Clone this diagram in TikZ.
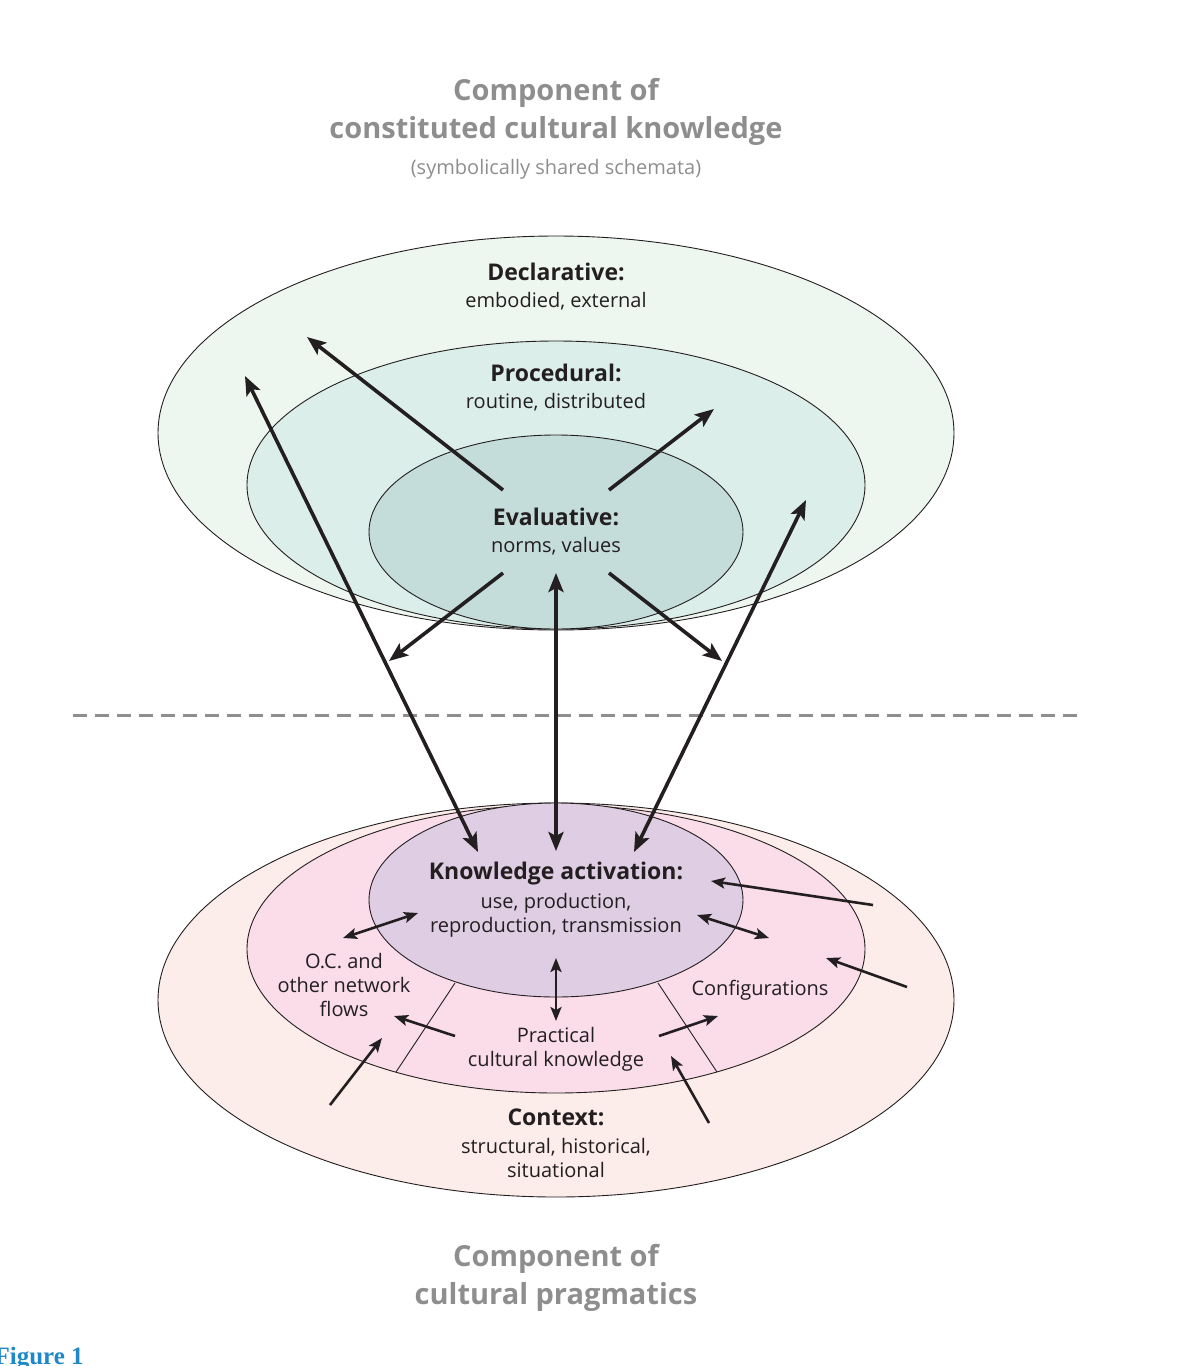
\documentclass[tikz,border=0pt]{standalone}
\usepackage{fontspec}
\setmainfont{Open Sans}
\newfontfamily\capfont{Liberation Serif}
\usepackage{tikz}
\usetikzlibrary{arrows.meta}
\definecolor{declfill}{HTML}{EEF6F0}
\definecolor{procfill}{HTML}{DCEEEA}
\definecolor{evalfill}{HTML}{C4DCDA}
\definecolor{ctxfill}{HTML}{FCECEA}
\definecolor{pracfill}{HTML}{FADDE9}
\definecolor{actfill}{HTML}{DFCDE3}
\definecolor{titlegray}{HTML}{8E8E8E}
\definecolor{inkblack}{HTML}{231F20}
\definecolor{capblue}{HTML}{1E88C8}

\begin{document}
\begin{tikzpicture}[x=1pt,y=-1pt,
    title/.style={text=titlegray,font=\fontsize{29}{38}\selectfont\bfseries,align=center},
    subtitle/.style={text=titlegray,font=\fontsize{20}{24}\selectfont},
    heading/.style={text=inkblack,font=\fontsize{23}{27}\selectfont\bfseries},
    label/.style={text=inkblack,font=\fontsize{20}{24}\selectfont,align=center},
    ring/.style={draw=inkblack,line width=0.9pt},
    bigarrow/.style={draw=inkblack,line width=3.6pt,-{Stealth[length=19pt,width=15pt,inset=4pt]}},
    bigboth/.style={draw=inkblack,line width=3.6pt,{Stealth[length=19pt,width=15pt,inset=4pt]}-{Stealth[length=19pt,width=15pt,inset=4pt]}},
    smallarrow/.style={draw=inkblack,line width=2.6pt,-{Stealth[length=14pt,width=11pt,inset=3pt]}},
    smallboth/.style={draw=inkblack,line width=2.6pt,{Stealth[length=14pt,width=11pt,inset=3pt]}-{Stealth[length=14pt,width=11pt,inset=3pt]}}]
  \useasboundingbox (0,0) rectangle (1180,1366);

  % upper component
  \node[title] (toptitle) at (556,112) {Component of\\constituted cultural knowledge};
  \node[subtitle] (topsub) at (556,169) {(symbolically shared schemata)};

  \draw[ring,fill=declfill] (556,433) ellipse [x radius=398pt,y radius=197pt];
  \draw[ring,fill=procfill] (556,485) ellipse [x radius=309pt,y radius=144pt];
  \draw[ring,fill=evalfill] (556,532) ellipse [x radius=187pt,y radius=97pt];

  \node[heading] (decl) at (556,272) {Declarative:};
  \node[label] (decltext) at (556,301) {embodied, external};
  \node[heading] (proc) at (556,373) {Procedural:};
  \node[label] (proctext) at (556,402) {routine, distributed};
  \node[heading] (eval) at (556,517) {Evaluative:};
  \node[label] (evaltext) at (556,546) {norms, values};

  % dividing line
  \coordinate (divleft) at (73,715);
  \coordinate (divright) at (1080,715);
  \draw[titlegray,line width=3pt,dash pattern=on 14pt off 8pt] (divleft) -- (divright);

  % lower component
  \draw[ring,fill=ctxfill] (556,1000) ellipse [x radius=398pt,y radius=197pt];
  \draw[ring,fill=pracfill] (556,949) ellipse [x radius=309pt,y radius=144pt];
  \draw[ring] (455,983) -- (396,1072);
  \draw[ring] (658,983) -- (717,1072);
  \draw[ring,fill=actfill] (556,900) ellipse [x radius=187pt,y radius=97pt];

  \node[heading] (act) at (556,874) {Knowledge activation:};
  \node[label] (acttext) at (556,915) {use, production,\\reproduction, transmission};
  \node[label] (flows) at (344,985) {O.C. and\\other network\\flows};
  \node[label] (config) at (760,990) {Configurations};
  \node[label] (prac) at (556,1049) {Practical\\cultural knowledge};
  \node[heading] (ctx) at (556,1117) {Context:};
  \node[label] (ctxtext) at (556,1158) {structural, historical,\\situational};

  \node[title] (bottitle) at (556,1278) {Component of\\cultural pragmatics};
  \node[anchor=base west,text=capblue,font=\capfont\fontsize{25}{28}\selectfont\bfseries] (caption) at (-9,1364) {Figure 1};

  % arrow ends
  \coordinate (evalnw) at (503,490);
  \coordinate (evalne) at (609,490);
  \coordinate (evalsw) at (503,573);
  \coordinate (evalse) at (609,573);
  \coordinate (evals) at (556,573);
  \coordinate (declw) at (307,337);
  \coordinate (procne) at (714,409);
  \coordinate (procsw) at (389,661);
  \coordinate (procse) at (722,661);
  \coordinate (declfar) at (245,376);
  \coordinate (procfar) at (806,500);
  \coordinate (actnw) at (478,852);
  \coordinate (actn) at (556,851);
  \coordinate (actne) at (634,852);

  \draw[bigarrow] (evalnw) -- (declw);
  \draw[bigarrow] (evalne) -- (procne);
  \draw[bigarrow] (evalsw) -- (procsw);
  \draw[bigarrow] (evalse) -- (procse);
  \draw[bigboth] (declfar) -- (actnw);
  \draw[bigboth] (evals) -- (actn);
  \draw[bigboth] (procfar) -- (actne);

  \coordinate (ctxne) at (873,905);
  \coordinate (actin) at (711,881);
  \coordinate (flowsin) at (343,938);
  \coordinate (actw) at (418,913);
  \coordinate (acte) at (697,915);
  \coordinate (configin) at (769,938);
  \coordinate (acts) at (556,958);
  \coordinate (pracn) at (556,1021);
  \coordinate (ctxe) at (907,987);
  \coordinate (configout) at (826,958);
  \coordinate (pracw) at (455,1036);
  \coordinate (flowsout) at (394,1016);
  \coordinate (prace) at (659,1036);
  \coordinate (configlow) at (718,1016);
  \coordinate (ctxsw) at (330,1105);
  \coordinate (flowslow) at (382,1038);
  \coordinate (ctxse) at (709,1123);
  \coordinate (praclow) at (671,1056);

  \draw[smallarrow] (ctxne) -- (actin);
  \draw[smallboth] (flowsin) -- (actw);
  \draw[smallboth] (acte) -- (configin);
  \draw[smallboth] (acts) -- (pracn);
  \draw[smallarrow] (ctxe) -- (configout);
  \draw[smallarrow] (pracw) -- (flowsout);
  \draw[smallarrow] (prace) -- (configlow);
  \draw[smallarrow] (ctxsw) -- (flowslow);
  \draw[smallarrow] (ctxse) -- (praclow);
\end{tikzpicture}
\end{document}
